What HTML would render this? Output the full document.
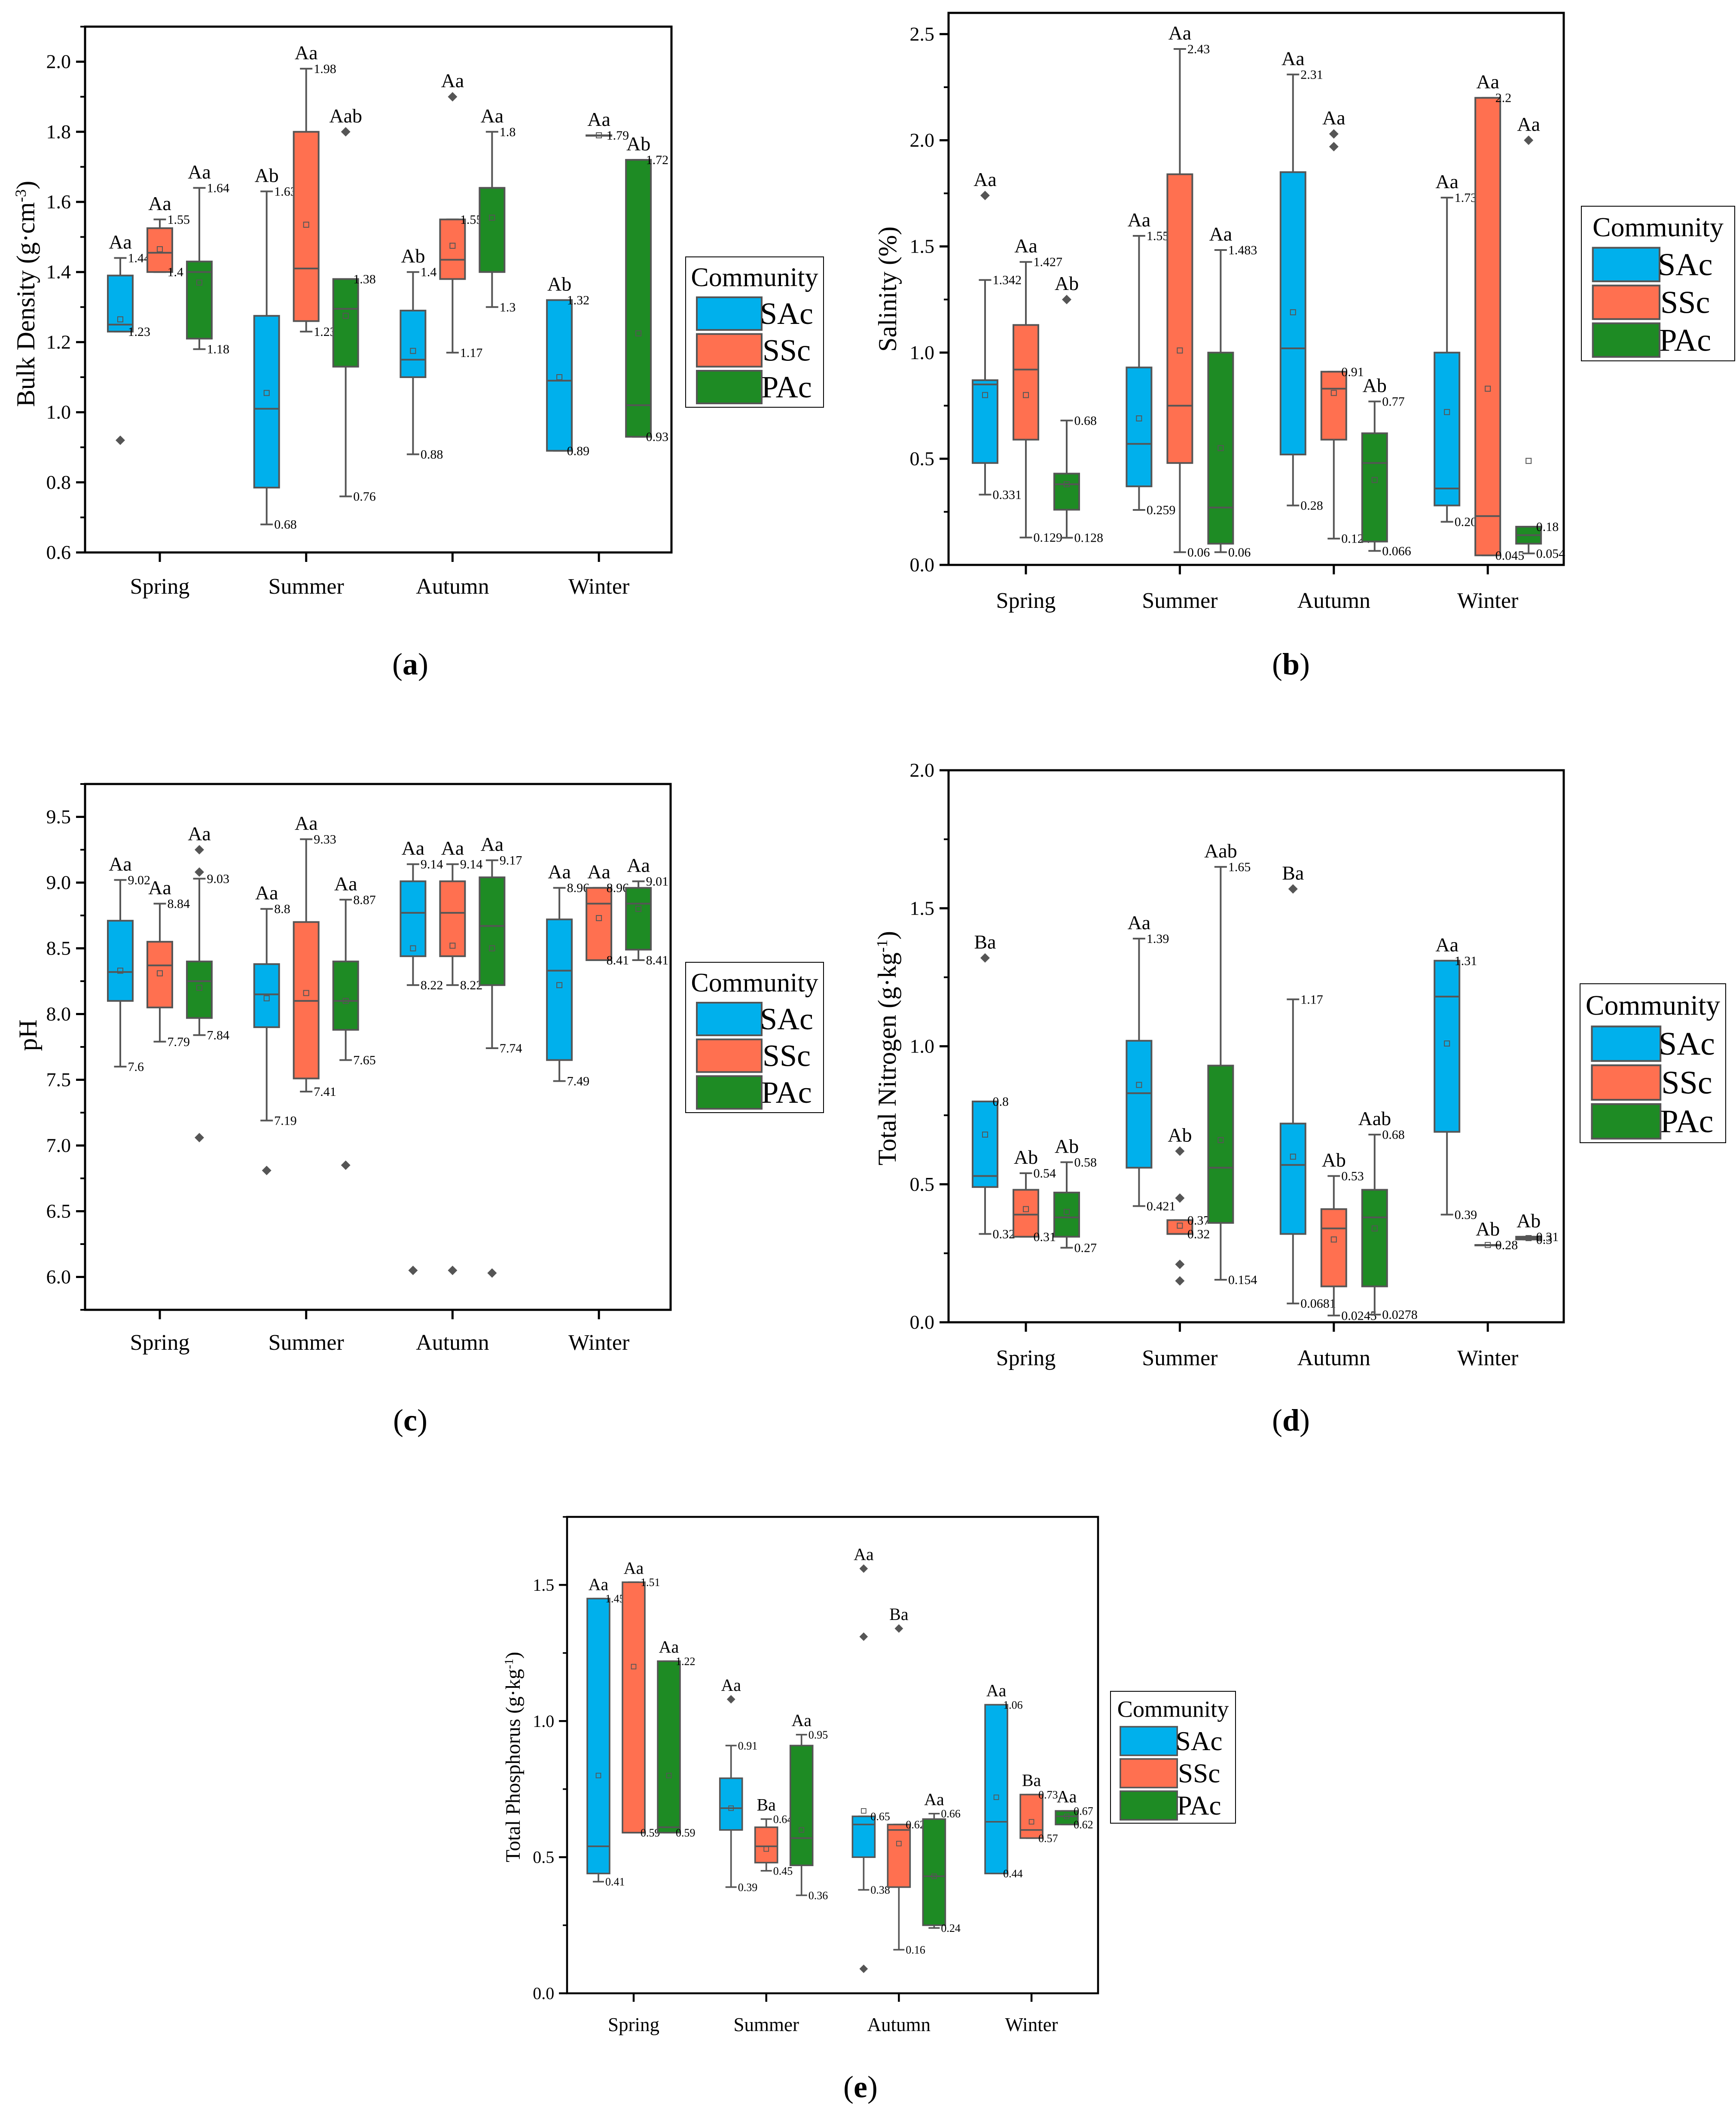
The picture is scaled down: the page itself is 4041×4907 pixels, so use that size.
<!DOCTYPE html>
<html><head><meta charset="utf-8"><title>Soil properties by season and community</title>
<style>
html,body{margin:0;padding:0;background:#fff;}
svg{display:block;font-family:"Liberation Serif",serif;}
</style></head>
<body>
<svg id="fig" xmlns="http://www.w3.org/2000/svg" width="4041" height="4907" viewBox="0 0 4041 4907">
<rect x="0" y="0" width="4041" height="4907" fill="#ffffff"/>
</svg>
<script>
const seasons=["Spring","Summer","Autumn","Winter"];
const comms=["SAc","SSc","PAc"];
const commColors=["#00b0ec","#ff7050","#1e8b24"];

const aLow=[1.23,1.40,1.18, 0.68,1.23,0.76, 0.88,1.17,1.30, 0.89,1.79,0.93];
const aQ1=[1.23,1.40,1.21, 0.785,1.26,1.13, 1.10,1.38,1.40, 0.89,1.79,0.93];
const aMed=[1.25,1.455,1.40, 1.01,1.41,1.295, 1.15,1.435,1.64, 1.09,1.79,1.02];
const aQ3=[1.39,1.525,1.43, 1.275,1.80,1.38, 1.29,1.55,1.64, 1.32,1.79,1.72];
const aHigh=[1.44,1.55,1.64, 1.63,1.98,1.38, 1.40,1.55,1.80, 1.32,1.79,1.72];
const aMean=[1.265,1.465,1.37, 1.055,1.535,1.275, 1.175,1.475,1.555, 1.10,1.79,1.225];
const aOut=[[0.92],[],[], [],[],[1.80], [],[1.90],[], [],[],[]];
const aLet=["Aa","Aa","Aa","Ab","Aa","Aab","Ab","Aa","Aa","Ab","Aa","Ab"];
const aTicks=["0.6","0.8","1.0","1.2","1.4","1.6","1.8","2.0"];

const bLow=[0.331,0.129,0.128, 0.259,0.06,0.06, 0.28,0.124,0.066, 0.203,0.045,0.054];
const bQ1=[0.48,0.59,0.26, 0.37,0.48,0.10, 0.52,0.59,0.11, 0.28,0.045,0.10];
const bMed=[0.85,0.92,0.38, 0.57,0.75,0.27, 1.02,0.83,0.48, 0.36,0.23,0.14];
const bQ3=[0.87,1.13,0.43, 0.93,1.84,1.00, 1.85,0.91,0.62, 1.00,2.20,0.18];
const bHigh=[1.342,1.427,0.68, 1.55,2.43,1.483, 2.31,0.91,0.77, 1.73,2.20,0.18];
const bMean=[0.80,0.80,0.38, 0.69,1.01,0.55, 1.19,0.81,0.40, 0.72,0.83,0.49];
const bOut=[[1.74],[],[1.25], [],[],[], [],[1.97,2.03],[], [],[],[2.0]];
const bLet=["Aa","Aa","Ab","Aa","Aa","Aa","Aa","Aa","Ab","Aa","Aa","Aa"];
const bTicks=["0.0","0.5","1.0","1.5","2.0","2.5"];

const cLow=[7.6,7.79,7.84, 7.19,7.41,7.65, 8.22,8.22,7.74, 7.49,8.41,8.41];
const cQ1=[8.10,8.05,7.97, 7.90,7.51,7.88, 8.44,8.44,8.22, 7.65,8.41,8.49];
const cMed=[8.32,8.37,8.25, 8.15,8.10,8.10, 8.77,8.77,8.67, 8.33,8.84,8.84];
const cQ3=[8.71,8.55,8.40, 8.38,8.70,8.40, 9.01,9.01,9.04, 8.72,8.96,8.96];
const cHigh=[9.02,8.84,9.03, 8.8,9.33,8.87, 9.14,9.14,9.17, 8.96,8.96,9.01];
const cMean=[8.33,8.31,8.20, 8.12,8.16,8.10, 8.50,8.52,8.50, 8.22,8.73,8.80];
const cOut=[[],[],[9.25,9.08,7.06], [6.81],[],[6.85], [6.05],[6.05],[6.03], [],[],[]];
const cLet=["Aa","Aa","Aa","Aa","Aa","Aa","Aa","Aa","Aa","Aa","Aa","Aa"];
const cTicks=["6.0","6.5","7.0","7.5","8.0","8.5","9.0","9.5"];

const dLow=[0.32,0.31,0.27, 0.421,0.32,0.154, 0.0681,0.0245,0.0278, 0.39,0.28,0.30];
const dQ1=[0.49,0.31,0.31, 0.56,0.32,0.36, 0.32,0.13,0.13, 0.69,0.28,0.30];
const dMed=[0.53,0.39,0.38, 0.83,0.32,0.56, 0.57,0.34,0.38, 1.18,0.28,0.305];
const dQ3=[0.80,0.48,0.47, 1.02,0.37,0.93, 0.72,0.41,0.48, 1.31,0.28,0.31];
const dHigh=[0.80,0.54,0.58, 1.39,0.37,1.65, 1.17,0.53,0.68, 1.31,0.28,0.31];
const dMean=[0.68,0.41,0.40, 0.86,0.35,0.66, 0.60,0.30,0.34, 1.01,0.28,0.305];
const dOut=[[1.32],[],[], [],[0.62,0.45,0.21,0.15],[], [1.57],[],[], [],[],[]];
const dLet=["Ba","Ab","Ab","Aa","Ab","Aab","Ba","Ab","Aab","Aa","Ab","Ab"];
const dTicks=["0.0","0.5","1.0","1.5","2.0"];

const eLow=[0.41,0.59,0.59, 0.39,0.45,0.36, 0.38,0.16,0.24, 0.44,0.57,0.62];
const eQ1=[0.44,0.59,0.59, 0.60,0.48,0.47, 0.50,0.39,0.25, 0.44,0.57,0.62];
const eMed=[0.54,0.59,0.61, 0.68,0.54,0.57, 0.62,0.60,0.43, 0.63,0.60,0.65];
const eQ3=[1.45,1.51,1.22, 0.79,0.61,0.91, 0.65,0.62,0.64, 1.06,0.73,0.67];
const eHigh=[1.45,1.51,1.22, 0.91,0.64,0.95, 0.65,0.62,0.66, 1.06,0.73,0.67];
const eMean=[0.80,1.20,0.80, 0.68,0.53,0.60, 0.67,0.55,0.43, 0.72,0.63,0.65];
const eOut=[[],[],[], [1.08],[],[], [1.56,1.31,0.09],[1.34],[], [],[],[]];
const eLet=["Aa","Aa","Aa","Aa","Ba","Aa","Aa","Ba","Aa","Aa","Ba","Aa"];
const eTicks=["0.0","0.5","1.0","1.5"];

const NS="http://www.w3.org/2000/svg";
const svg=document.getElementById("fig");
function mk(tag,attrs,parent){const el=document.createElementNS(NS,tag);for(const k in attrs)el.setAttribute(k,attrs[k]);(parent||svg).appendChild(el);return el;}

function drawPanel(P,D){
  const g=mk("g",{});
  
  
  const yScale=v=>P.bottom-(v-P.yMin)/(P.yMax-P.yMin)*(P.bottom-P.top);
  const xScale=(si,ci)=>P.cat0+si*P.dx+(ci-1)*P.off;
  const sw=P.s;
  const fr=mk("rect",{x:P.left,y:P.top,width:P.right-P.left,height:P.bottom-P.top,fill:"none",stroke:"#000","stroke-width":5*sw},g);
  
  
  const yAx=mk("g",{},g);
  
  
  D.ticks.forEach(t=>{
    const v=parseFloat(t),y=yScale(v);
    mk("line",{x1:P.left-21*sw,x2:P.left,y1:y,y2:y,stroke:"#000","stroke-width":5*sw},yAx);
    const tx=mk("text",{x:P.left-33*sw,y:y+15*sw,"text-anchor":"end","font-size":P.tickFont,fill:"#000"},yAx);
    tx.textContent=t;
    
    
  });
  for(let v=P.yMin;v<=P.yMax+1e-9;v+=P.minor){
    const y=yScale(v);
    mk("line",{x1:P.left-11*sw,x2:P.left,y1:y,y2:y,stroke:"#000","stroke-width":4*sw},yAx);
  }
  const xAx=mk("g",{},g);
  
  
  seasons.forEach((s,si)=>{
    const x=P.cat0+si*P.dx;
    mk("line",{x1:x,x2:x,y1:P.bottom,y2:P.bottom+22*sw,stroke:"#000","stroke-width":5*sw},xAx);
    const tx=mk("text",{x:x,y:P.bottom+P.catDy,"text-anchor":"middle","font-size":P.catFont,fill:"#000"},xAx);
    tx.textContent=s;
    
    
  });
  const tt=mk("text",{x:0,y:0,"text-anchor":"middle","font-size":P.titleFont,fill:"#000",transform:`translate(${P.titleX},${P.titleY}) rotate(-90)`},g);
  
  
  const t1=mk("tspan",{},tt);t1.textContent=P.title;
  if(P.sup){const t2=mk("tspan",{"baseline-shift":"super","font-size":P.titleFont*0.6},tt);t2.textContent=P.sup;const t3=mk("tspan",{},tt);t3.textContent=")";}
  const vf=P.vFont, lf=P.letFont;
  for(let i=0;i<12;i++){
    const si=Math.floor(i/3),ci=i%3;
    const cx=xScale(si,ci),bw=P.bw;
    const bg=mk("g",{},g);
    
    
    const yl=yScale(D.low[i]),yh=yScale(D.high[i]),y1=yScale(D.q1[i]),y3=yScale(D.q3[i]),ym=yScale(D.med[i]);
    const lc="#555";
    mk("line",{x1:cx,x2:cx,y1:yh,y2:y3,stroke:lc,"stroke-width":4*sw},bg);
    mk("line",{x1:cx,x2:cx,y1:y1,y2:yl,stroke:lc,"stroke-width":4*sw},bg);
    mk("line",{x1:cx-bw*0.25,x2:cx+bw*0.25,y1:yh,y2:yh,stroke:lc,"stroke-width":4*sw},bg);
    mk("line",{x1:cx-bw*0.25,x2:cx+bw*0.25,y1:yl,y2:yl,stroke:lc,"stroke-width":4*sw},bg);
    mk("rect",{x:cx-bw/2,y:y3,width:bw,height:Math.max(y1-y3,1),fill:commColors[ci],stroke:lc,"stroke-width":4*sw},bg);
    mk("line",{x1:cx-bw/2,x2:cx+bw/2,y1:ym,y2:ym,stroke:lc,"stroke-width":4*sw},bg);
    const mm=yScale(D.mean[i]);
    mk("rect",{x:cx-6*sw,y:mm-6*sw,width:12*sw,height:12*sw,fill:"none",stroke:lc,"stroke-width":2*sw},bg);
    let topV=D.high[i];
    D.out[i].forEach(o=>{
      const oy=yScale(o),r=11*sw;
      mk("polygon",{points:`${cx},${oy-r} ${cx+r},${oy} ${cx},${oy+r} ${cx-r},${oy}`,fill:"#555"},bg);
      if(o>topV)topV=o;
    });
    const hl=mk("text",{x:cx+bw*0.25+3,y:yh+10*sw,"font-size":vf,fill:"#000"},bg);
    hl.textContent=String(D.high[i]);
    if(D.low[i]!==D.high[i]){
      const ll=mk("text",{x:cx+bw*0.25+3,y:yl+10*sw,"font-size":vf,fill:"#000"},bg);
      ll.textContent=String(D.low[i]);
    }
    const lt=mk("text",{x:cx,y:yScale(topV)-22*sw,"text-anchor":"middle","font-size":lf,fill:"#000"},bg);
    lt.textContent=D.let[i];
    
    
  }
  const L=P.leg,k=L.h/350;
  const lg=mk("g",{},g);
  
  
  mk("rect",{x:L.x,y:L.y,width:L.w,height:L.h,fill:"#fff",stroke:"#000","stroke-width":2},lg);
  const lt=mk("text",{x:L.x+L.w/2,y:L.y+68*k,"text-anchor":"middle","font-size":62*k,fill:"#000"},lg);
  lt.textContent="Community";
  
  
  comms.forEach((c,ci)=>{
    const ry=L.y+(94+ci*85.5)*k;
    const e=mk("g",{},lg);
    
    
    mk("rect",{x:L.x+26*k,y:ry,width:151*k,height:76*k,fill:commColors[ci],stroke:"#555","stroke-width":4*k},e);
    const tx=mk("text",{x:L.x+235*k,y:ry+62*k,"text-anchor":"middle","font-size":72*k,fill:"#000"},e);
    tx.textContent=c;
  });
  const cap=mk("text",{x:P.capX,y:P.capY,"text-anchor":"middle","font-size":P.capFont,fill:"#000"},g);
  
  
  const c1=mk("tspan",{},cap);c1.textContent="(";
  const c2=mk("tspan",{"font-weight":"bold"},cap);c2.textContent=P.capLetter;
  const c3=mk("tspan",{},cap);c3.textContent=")";
}

const base={s:1,tickFont:46,catFont:52,titleFont:60,vFont:30,letFont:46,capFont:72,catDy:96};
drawPanel(Object.assign({},base,{name:"panel-a-bulk-density",left:198,right:1563,top:62,bottom:1286,yMin:0.6,yMax:2.1,minor:0.1,cat0:372,dx:340.7,off:92,bw:58,title:"Bulk Density (g·cm",sup:"-3",titleX:80,titleY:684,leg:{x:1596,y:598,w:321,h:350},capX:955,capY:1570,capLetter:"a"}),
 {low:aLow,q1:aQ1,med:aMed,q3:aQ3,high:aHigh,mean:aMean,out:aOut,let:aLet,ticks:aTicks});
drawPanel(Object.assign({},base,{name:"panel-b-salinity",left:2208,right:3640,top:30,bottom:1315,yMin:0,yMax:2.6,minor:0.25,cat0:2388,dx:358.4,off:95,bw:58,title:"Salinity (%)",sup:null,titleX:2086,titleY:673,leg:{x:3681,y:480,w:357,h:360},capX:3005,capY:1570,capLetter:"b",catDy:100}),
 {low:bLow,q1:bQ1,med:bMed,q3:bQ3,high:bHigh,mean:bMean,out:bOut,let:bLet,ticks:bTicks});
drawPanel(Object.assign({},base,{name:"panel-c-ph",left:198,right:1561,top:1825,bottom:3049,yMin:5.75,yMax:9.75,minor:0.25,cat0:372,dx:340.7,off:92,bw:58,title:"pH",sup:null,titleX:85,titleY:2410,leg:{x:1596,y:2240,w:321,h:350},capX:955,capY:3330,capLetter:"c",catDy:93}),
 {low:cLow,q1:cQ1,med:cMed,q3:cQ3,high:cHigh,mean:cMean,out:cOut,let:cLet,ticks:cTicks});
drawPanel(Object.assign({},base,{name:"panel-d-total-nitrogen",left:2208,right:3640,top:1793,bottom:3078,yMin:0,yMax:2.0,minor:0.25,cat0:2388,dx:358.4,off:95,bw:58,title:"Total Nitrogen (g·kg",sup:"-1",titleX:2085,titleY:2440,leg:{x:3678,y:2290,w:339,h:370},capX:3005,capY:3330,capLetter:"d",catDy:100}),
 {low:dLow,q1:dQ1,med:dMed,q3:dQ3,high:dHigh,mean:dMean,out:dOut,let:dLet,ticks:dTicks});
drawPanel(Object.assign({},base,{name:"panel-e-total-phosphorus",tickFont:40,catFont:45,titleFont:48,vFont:26,letFont:40,s:0.9,left:1320,right:2556,top:3531,bottom:4640,yMin:0,yMax:1.75,minor:0.25,cat0:1475,dx:308.7,off:82,bw:52,title:"Total Phosphorus (g·kg",sup:"-1",titleX:1210,titleY:4090,leg:{x:2585,y:3937,w:291,h:307},capX:2003,capY:4882,capLetter:"e",catDy:88}),
 {low:eLow,q1:eQ1,med:eMed,q3:eQ3,high:eHigh,mean:eMean,out:eOut,let:eLet,ticks:eTicks});
</script>
</body></html>
